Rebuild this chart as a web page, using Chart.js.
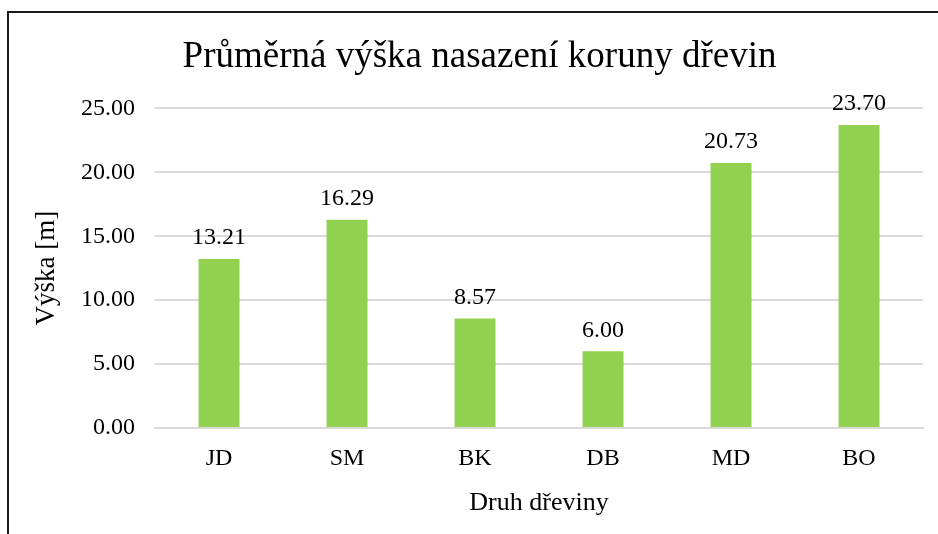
<!DOCTYPE html>
<html>
<head>
<meta charset="utf-8">
<script src="https://cdn.jsdelivr.net/npm/chart.js@4/dist/chart.umd.min.js"></script>
<style>
  html, body { margin: 0; padding: 0; background: #fff; }
  #wrap { width: 938px; height: 534px; position: relative; }
</style>
</head>
<body>
<div id="wrap"><canvas id="ctx" width="938" height="534"></canvas></div>
<script>
// data
var druhy = ['JD', 'SM', 'BK', 'DB', 'MD', 'BO'];
var vysky = [13.21, 16.29, 8.57, 6.00, 20.73, 23.70];
var yTicks = [0, 5, 10, 15, 20, 25];

var serif = "'Liberation Serif', 'Times New Roman', serif";

// frame round the chart like in excel
var framePlugin = {
  id: 'frame',
  beforeDraw: function (chart) {
    var c = chart.ctx;
    c.save();
    c.strokeStyle = '#1a1a1a';
    c.lineWidth = 2;
    c.beginPath();
    c.moveTo(8, chart.height);
    c.lineTo(8, 12);
    c.lineTo(chart.width, 12);
    c.stroke();
    c.restore();
  }
};

// value labels above bars
var valuePlugin = {
  id: 'values',
  afterDatasetsDraw: function (chart) {
    var c = chart.ctx;
    var meta = chart.getDatasetMeta(0);
    c.save();
    c.font = '24px ' + serif;
    c.fillStyle = '#000';
    c.textAlign = 'center';
    c.textBaseline = 'bottom';
    meta.data.forEach(function (bar, i) {
      c.fillText(vysky[i].toFixed(2), bar.x, bar.y - 9);
    });
    c.restore();
  }
};

var barChart = new Chart(document.getElementById('ctx'), {
  type: 'bar',
  data: {
    labels: druhy,
    datasets: [{
      data: vysky,
      backgroundColor: '#92d050',
      barPercentage: 0.32,
      categoryPercentage: 1.0
    }]
  },
  options: {
    responsive: false,
    animation: false,
    layout: { padding: { left: 36, right: 15, top: 20, bottom: 0 } },
    plugins: {
      legend: { display: false },
      tooltip: { enabled: false },
      title: {
        display: true,
        text: 'Průměrná výška nasazení koruny dřevin',
        color: '#000',
        font: { family: serif, size: 37, weight: 'normal' },
        padding: { top: 15, bottom: 29 }
      }
    },
    scales: {
      x: {
        grid: { display: false },
        border: { color: '#d9d9d9', width: 2 },
        ticks: { color: '#000', font: { family: serif, size: 24 }, padding: 8 },
        title: {
          display: true,
          text: 'Druh dřeviny',
          color: '#000',
          font: { family: serif, size: 26 },
          padding: { top: 0, bottom: 15 }
        },
        afterFit: function (scale) { scale.height = 106; }
      },
      y: {
        min: 0,
        max: 25,
        grid: { color: '#d9d9d9', lineWidth: 2, drawTicks: false },
        border: { display: false },
        afterBuildTicks: function (scale) {
          scale.ticks = yTicks.map(function (v) { return { value: v }; });
        },
        ticks: {
          color: '#000',
          font: { family: serif, size: 24 },
          padding: 20,
          callback: function (v) { return v.toFixed(2); }
        },
        title: {
          display: true,
          text: 'Výška [m]',
          color: '#000',
          font: { family: serif, size: 27, lineHeight: 0.8 },
          padding: { top: 0, bottom: 0 }
        },
        afterFit: function (scale) { scale.width = 119; }
      }
    }
  },
  plugins: [framePlugin, valuePlugin]
});
</script>
</body>
</html>
